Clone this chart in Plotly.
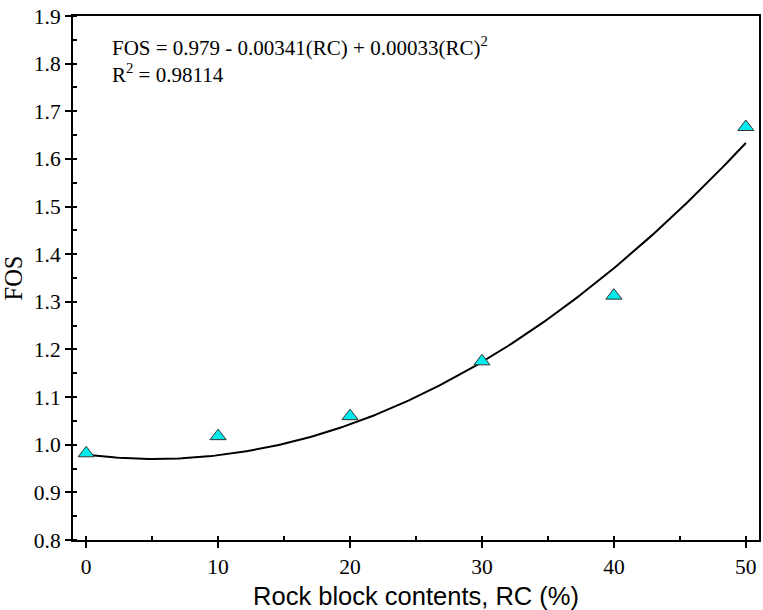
import numpy as np
import plotly.graph_objects as go

rc = [0, 10, 20, 30, 40, 50]
fos = [0.982, 1.018, 1.060, 1.175, 1.313, 1.667]
fit_coef = [0.979, -0.00341, 0.00033]  # c0 + c1*RC + c2*RC^2 (as stated on chart)
eq_text = "FOS = 0.979 - 0.00341(RC) + 0.00033(RC)<sup>2</sup>"
r2_text = "R<sup>2</sup> = 0.98114"

xf = np.linspace(0, 50, 201)
yf = fit_coef[0] + fit_coef[1] * xf + fit_coef[2] * xf ** 2

fig = go.Figure()
fig.add_trace(go.Scatter(x=xf, y=yf, mode="lines",
                         line=dict(color="black", width=2), showlegend=False,
                         hoverinfo="skip"))
fig.add_trace(go.Scatter(x=rc, y=fos, mode="markers",
                         marker=dict(symbol="triangle-up", size=14, color="#00ECEC",
                                     line=dict(color="#333333", width=1)),
                         showlegend=False))

serif = "Liberation Serif, Times New Roman, serif"
sans = "Liberation Sans, Arial, sans-serif"

fig.update_layout(
    width=763, height=610,
    margin=dict(l=73, r=2, t=16, b=70),
    paper_bgcolor="white", plot_bgcolor="white",
    xaxis=dict(range=[-1, 51], tickvals=[0, 10, 20, 30, 40, 50],
               ticks="outside", ticklen=6, tickwidth=1.5, tickcolor="black",
               showline=True, linewidth=2, linecolor="black", mirror=True,
               showgrid=False, zeroline=False,
               minor=dict(dtick=5, tick0=0, ticks="inside", ticklen=4,
                          tickwidth=1.5, tickcolor="black", showgrid=False),
               tickfont=dict(family=serif, size=21.5, color="black"),
               title=dict(text="Rock block contents, RC (%)", standoff=10,
                          font=dict(family=sans, size=25.5, color="black"))),
    yaxis=dict(range=[0.8, 1.9], dtick=0.1, tick0=0.8, tickformat=".1f",
               ticks="outside", ticklen=6, tickwidth=1.5, tickcolor="black",
               showline=True, linewidth=2, linecolor="black", mirror=True,
               showgrid=False, zeroline=False,
               minor=dict(dtick=0.05, tick0=0.8, ticks="inside", ticklen=4,
                          tickwidth=1.5, tickcolor="black", showgrid=False),
               tickfont=dict(family=serif, size=21.5, color="black"),
               title=dict(text="FOS", standoff=10,
                          font=dict(family=serif, size=24.5, color="black"))),
)

fig.add_annotation(xref="paper", yref="paper", x=0.054, y=0.941,
                   xanchor="left", yanchor="middle", showarrow=False,
                   text=eq_text, font=dict(family=serif, size=21, color="black"))
fig.add_annotation(xref="paper", yref="paper", x=0.054, y=0.891,
                   xanchor="left", yanchor="middle", showarrow=False,
                   text=r2_text, font=dict(family=serif, size=21, color="black"))

fig.write_html("out.html", config={"displayModeBar": False},
               post_script="document.body.style.margin='0px';document.body.style.overflow='hidden';")
